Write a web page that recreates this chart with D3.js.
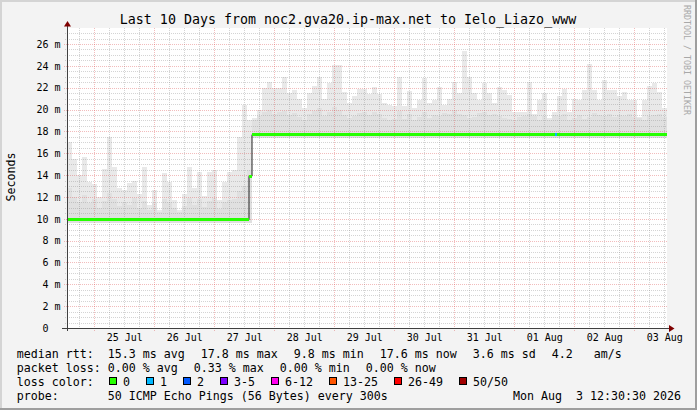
<!DOCTYPE html>
<html><head><meta charset="utf-8">
<script src="https://cdn.jsdelivr.net/npm/d3@7"></script>
<style>
body{margin:0;background:#f3f3f3}
svg{display:block}
text{font-family:"DejaVu Sans Mono",monospace;white-space:pre}
</style>
</head><body>
<svg id="chart" width="697" height="410" xml:space="preserve"></svg>
<script>
// ---------------- data ----------------
const title = "Last 10 Days from noc2.gva20.ip-max.net to Ielo_Liazo_www";
const yLabel = "Seconds";
const watermark = "RRDTOOL / TOBI OETIKER";
const startTime = "2026-07-24T13:05:00";
const endTime = "2026-08-03T13:05:00";
const binHours = 2;
const yTicks = [0, 2, 4, 6, 8, 10, 12, 14, 16, 18, 20, 22, 24, 26];
const dayLabels = ["2026-07-25", "2026-07-26", "2026-07-27", "2026-07-28", "2026-07-29",
                   "2026-07-30", "2026-07-31", "2026-08-01", "2026-08-02", "2026-08-03"];

// smoke (ms), one value per 2-hour bin
const smokeMax = [
 17.0,15.5,14.0,15.7,13.4,13.2,12.0,14.6,17.5,14.7,
 12.8,12.6,13.3,13.5,12.3,14.7,11.3,12.6,10.8,14.2,
 13.4,11.7,10.8,12.3,14.7,12.8,14.3,12.1,14.3,14.5,
 11.7,13.4,14.3,14.5,17.5,20.4,19.0,19.2,20.0,22.0,
 22.5,22.0,22.0,23.0,21.5,21.8,21.0,20.1,21.5,22.2,
 23.0,21.0,22.4,24.1,24.1,21.6,20.6,21.2,21.9,21.9,
 21.4,22.1,21.4,20.6,20.4,20.3,23.0,20.3,21.7,20.1,
 20.9,22.9,20.6,20.9,22.1,20.4,21.0,22.5,21.5,25.4,
 23.0,21.5,20.9,22.4,21.5,20.6,22.1,21.8,21.3,19.8,
 19.8,19.8,22.5,19.6,20.9,21.5,19.2,19.8,21.2,21.9,
 19.8,21.0,20.9,21.8,24.2,21.8,20.9,22.7,21.8,21.8,
 21.2,21.6,20.9,20.9,19.3,20.9,22.2,22.4,21.6,20.1];
const smokeMid = [
 12.8,12.0,11.5,12.2,11.4,11.8,11.0,11.6,12.4,11.8,
 11.2,11.5,11.3,11.9,11.0,11.6,10.8,11.4,10.6,11.8,
 11.5,11.0,10.6,11.2,11.9,11.3,11.8,11.1,11.6,11.9,
 10.9,11.5,11.7,11.8,12.5,13.0,14.5,19.0,19.4,19.8,
 20.0,19.6,19.8,19.9,19.5,19.7,19.3,19.0,19.6,19.9,
 20.1,19.4,19.8,20.2,20.0,19.5,19.2,19.4,19.7,19.8,
 19.5,19.8,19.6,19.2,19.0,19.1,19.9,19.1,19.6,19.0,
 19.3,19.8,19.2,19.5,19.4,19.7,19.6,20.0,19.6,19.5,
 19.2,19.3,19.7,19.8,19.5,19.6,19.4,19.2,19.1,19.0,
 19.3,19.4,19.6,19.4,19.0,19.4,19.0,19.5,19.4,19.6,
 19.0,19.2,19.5,19.1,19.3,19.7,19.5,19.4,19.6,19.3,
 19.5,19.4,19.6,19.3,19.2,19.0,19.4,19.5,19.6,19.3];
const smokeMin = [
 9.6,9.6,9.6,9.6,9.6,9.6,9.6,9.6,9.6,9.6,
 9.6,9.6,9.6,9.6,9.6,9.6,9.6,9.6,9.6,9.6,
 9.6,9.6,9.6,9.6,9.6,9.6,9.6,9.6,9.6,9.6,
 9.6,9.6,9.6,9.6,9.6,9.6,9.6,17.4,17.4,17.4,
 17.4,17.4,17.4,17.4,17.4,17.4,17.4,17.4,17.4,17.4,
 17.4,17.4,17.4,17.4,17.4,17.4,17.4,17.4,17.4,17.4,
 17.4,17.4,17.4,17.4,17.4,17.4,17.4,17.4,17.4,17.4,
 17.4,17.4,17.4,17.4,17.4,17.4,17.4,17.4,17.4,17.4,
 17.4,17.4,17.4,17.4,17.4,17.4,17.4,17.4,17.4,17.4,
 17.4,17.4,17.4,17.4,17.4,17.4,17.4,17.4,17.4,17.4,
 17.4,17.4,17.4,17.4,17.4,17.4,17.4,17.4,17.4,17.4,
 17.4,17.4,17.4,17.4,17.4,17.4,17.4,17.4,17.4,17.4];

// median rtt (ms) as step change points
const medianTimes = ["2026-07-24T13:05:00", "2026-07-27T13:53:00", "2026-07-27T15:05:00", "2026-08-03T13:05:00"];
const medianValues = [9.9, 13.9, 17.7, 17.7];

// loss events on median line
const lossStarts = ["2026-08-01T16:20:00"];
const lossEnds = ["2026-08-01T17:10:00"];
const lossValues = [17.7];
const lossClass = [1];

// legend
const lossLabels = ["0", "1", "2", "3-5", "6-12", "13-25", "26-49", "50/50"];
const lossColors = ["#26ff00", "#00b8ff", "#0059ff", "#7e00ff", "#ff00ee", "#ff5500", "#ff0000", "#a10000"];
const rttItems = ["15.3 ms avg", "17.8 ms max", "9.8 ms min", "17.6 ms now", "3.6 ms sd", "4.2   am/s"];
const lossItems = ["0.00 % avg", "0.33 % max", "0.00 % min", "0.00 % now"];
const probeText = "50 ICMP Echo Pings (56 Bytes) every 300s";
const dateText = "Mon Aug  3 12:30:30 2026";

// ---------------- drawing ----------------
const W = 697, H = 410;
const L = 67, R = 667, T = 28, B = 328;
const svg = d3.select("#chart");
const parse = d3.timeParse("%Y-%m-%dT%H:%M:%S");
const parseDay = d3.timeParse("%Y-%m-%d");
const t0 = parse(startTime), t1 = parse(endTime);

const x = d3.scaleTime().domain([t0, t1]).range([L, R]);
const y = d3.scaleLinear().domain([0, 27.465]).range([B, T]);

// background & shading
svg.append("rect").attr("width", W).attr("height", H).attr("fill", "#f3f3f3");
svg.append("rect").attr("x", 0).attr("y", 0).attr("width", W).attr("height", 2).attr("fill", "#d4d4d4");
svg.append("rect").attr("x", 0).attr("y", 0).attr("width", 2).attr("height", H).attr("fill", "#d4d4d4");
svg.append("rect").attr("x", 0).attr("y", H - 2).attr("width", W).attr("height", 2).attr("fill", "#9e9e9e");
svg.append("rect").attr("x", W - 2).attr("y", 0).attr("width", 2).attr("height", H).attr("fill", "#9e9e9e");

// canvas
svg.append("rect").attr("x", L).attr("y", T).attr("width", R - L).attr("height", B - T).attr("fill", "#ffffff");

// smoke
const bins = smokeMax.map((v, i) => ({
  t: d3.timeHour.offset(t0, i * binHours),
  t2: d3.timeHour.offset(t0, (i + 1) * binHours),
  max: v, mid: smokeMid[i], min: smokeMin[i]
}));
const gSmoke = svg.append("g").attr("shape-rendering", "crispEdges");
gSmoke.selectAll("rect.l").data(bins).join("rect")
  .attr("x", d => x(d.t)).attr("width", d => x(d.t2) - x(d.t))
  .attr("y", d => y(d.max)).attr("height", d => y(d.min) - y(d.max))
  .attr("fill", "#e9e9e9");
gSmoke.selectAll("rect.m").data(bins).join("rect")
  .attr("x", d => x(d.t)).attr("width", d => x(d.t2) - x(d.t))
  .attr("y", d => y(d.mid)).attr("height", d => y(d.min) - y(d.mid))
  .attr("fill", "#e0e0e0");

// grid
const gGrid = svg.append("g").attr("shape-rendering", "crispEdges");
const minorColor = "rgba(143,143,143,0.38)";
const majorColor = "rgba(222,80,80,0.38)";
const minorY = d3.range(1, 55).map(i => i * 0.5).filter(v => v % 2 !== 0 && y(v) >= T);
gGrid.selectAll("line.hy").data(minorY).join("line")
  .attr("x1", L - 2).attr("x2", R).attr("y1", d => Math.round(y(d)) + 0.5).attr("y2", d => Math.round(y(d)) + 0.5)
  .attr("stroke", minorColor).attr("stroke-dasharray", "1,1");
const minorX = d3.timeHour.every(6).range(t0, t1).filter(d => d.getHours() !== 0);
gGrid.selectAll("line.vx").data(minorX).join("line")
  .attr("x1", d => Math.round(x(d)) + 0.5).attr("x2", d => Math.round(x(d)) + 0.5).attr("y1", T).attr("y2", B + 2)
  .attr("stroke", minorColor).attr("stroke-dasharray", "1,1");
gGrid.selectAll("line.my").data(yTicks.filter(v => v > 0)).join("line")
  .attr("x1", L - 3).attr("x2", R).attr("y1", d => Math.round(y(d)) + 0.5).attr("y2", d => Math.round(y(d)) + 0.5)
  .attr("stroke", majorColor).attr("stroke-dasharray", "1,1");
const majorX = d3.timeDay.range(t0, t1);
gGrid.selectAll("line.mx").data(majorX).join("line")
  .attr("x1", d => Math.round(x(d)) + 0.5).attr("x2", d => Math.round(x(d)) + 0.5).attr("y1", T).attr("y2", B + 3)
  .attr("stroke", majorColor).attr("stroke-dasharray", "1,1");

// median dark step line
const medPts = medianTimes.map((t, i) => [parse(t), medianValues[i]]);
svg.append("path")
  .attr("d", d3.line().x(d => x(d[0])).y(d => y(d[1])).curve(d3.curveStepAfter)(medPts))
  .attr("fill", "none").attr("stroke", "#202020").attr("stroke-width", 1);

// median coloured band (loss 0)
const segs = medPts.slice(0, -1).map((p, i) => ({ a: p[0], b: medPts[i + 1][0], v: p[1] }));
svg.append("g").attr("shape-rendering", "crispEdges").selectAll("rect").data(segs).join("rect")
  .attr("x", d => x(d.a)).attr("width", d => x(d.b) - x(d.a))
  .attr("y", d => y(d.v) - 1.5).attr("height", 3)
  .attr("fill", lossColors[0]);
// loss events
svg.append("g").attr("shape-rendering", "crispEdges").selectAll("rect").data(lossStarts).join("rect")
  .attr("x", (d, i) => x(parse(d))).attr("width", (d, i) => x(parse(lossEnds[i])) - x(parse(d)))
  .attr("y", (d, i) => y(lossValues[i]) - 1.5).attr("height", 3)
  .attr("fill", (d, i) => lossColors[lossClass[i]]);

// axes
const axisColor = "#404040";
svg.append("line").attr("x1", 62).attr("x2", 670).attr("y1", B + 0.5).attr("y2", B + 0.5).attr("stroke", axisColor);
svg.append("line").attr("x1", L + 0.5).attr("x2", L + 0.5).attr("y1", B + 3).attr("y2", 24).attr("stroke", axisColor);
svg.append("path").attr("d", "M64,26.5 L71,26.5 L67.5,21 Z").attr("fill", "#7f0000");
svg.append("path").attr("d", "M669,325 L669,332 L674.5,328.5 Z").attr("fill", "#7f0000");

// y tick labels
svg.append("g").selectAll("text").data(yTicks).join("text")
  .attr("x", d => d === 0 ? 48.5 : 60.5).attr("y", d => y(d) + 3.8)
  .attr("text-anchor", "end").attr("font-size", "10px").attr("fill", "#000")
  .text(d => d === 0 ? "0" : d + " m");

// x tick labels (centered at noon)
const fmt = d3.timeFormat("%d %b");
svg.append("g").selectAll("text").data(dayLabels).join("text")
  .attr("x", d => x(d3.timeHour.offset(parseDay(d), 12)) + 0.5).attr("y", 341)
  .attr("text-anchor", "middle").attr("font-size", "10px").attr("fill", "#000")
  .text(d => fmt(parseDay(d)));

// title
svg.append("text").attr("x", 348).attr("y", 24).attr("text-anchor", "middle")
  .attr("font-size", "13.3px").attr("fill", "#000").text(title);

// y label
svg.append("text").attr("transform", "translate(15,177) rotate(-90)").attr("text-anchor", "middle")
  .attr("font-size", "11.63px").attr("fill", "#000").text(yLabel);

// watermark
svg.append("text").attr("transform", "translate(684,5) rotate(90)").attr("text-anchor", "start")
  .attr("font-size", "8.3px").attr("fill", "#a8a8a8").text(watermark);

// legend
const CW = 7, FS = "11.63px", LX = 16.7, VX = 107.7, GAP = 16;
function row(label, items, yy) {
  svg.append("text").attr("x", LX).attr("y", yy).attr("font-size", FS).text(label);
  let cx = VX;
  items.forEach(s => {
    svg.append("text").attr("x", cx).attr("y", yy).attr("font-size", FS).text(s);
    cx += s.length * CW + GAP;
  });
}
row("median rtt:", rttItems, 358);
row("packet loss:", lossItems, 372);
svg.append("text").attr("x", LX).attr("y", 386).attr("font-size", FS).text("loss color:");
let bx = 109;
lossLabels.forEach((lab, i) => {
  svg.append("rect").attr("x", bx + 0.5).attr("y", 377.5).attr("width", 7).attr("height", 7)
    .attr("fill", lossColors[i]).attr("stroke", "#000").attr("stroke-width", 1);
  svg.append("text").attr("x", bx + 14).attr("y", 386).attr("font-size", FS).text(lab);
  bx += 14 + lab.length * CW + GAP;
});
svg.append("text").attr("x", LX).attr("y", 400).attr("font-size", FS).text("probe:");
svg.append("text").attr("x", VX).attr("y", 400).attr("font-size", FS).text(probeText);
svg.append("text").attr("x", 681).attr("y", 400).attr("text-anchor", "end").attr("font-size", FS).text(dateText);
</script>
</body></html>
